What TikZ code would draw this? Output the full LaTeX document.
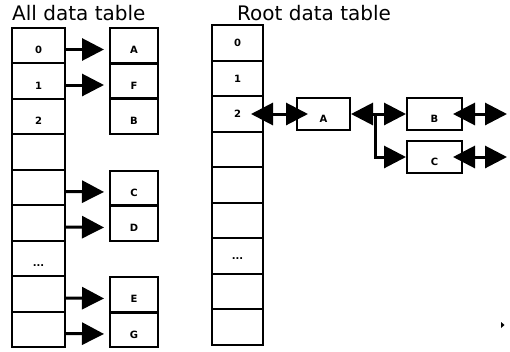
\documentclass[tikz,border=0pt]{standalone}
\usepackage{fontspec}
\setmainfont{DejaVu Sans}
\usetikzlibrary{positioning, arrows.meta, calc}

\tikzset{
    cell/.style={draw, line width=2pt, minimum width=53pt, minimum height=35.5pt,
        inner sep=0pt, font=\fontsize{10}{10}\selectfont\bfseries,
        text height=16pt, text depth=0pt},
    rootcell/.style={cell, minimum width=51pt, text height=7pt},
    box/.style={cell, minimum width=48pt, minimum height=34.5pt},
    listbox/.style={cell, minimum height=32pt},
    title/.style={inner sep=0pt, font=\fontsize{20}{20}\selectfont},
    arr/.style={line width=3pt, -{Triangle[length=22pt, width=22pt]}},
    dbl/.style={line width=3pt, {Triangle[length=22pt, width=22pt]}-{Triangle[length=22pt, width=22pt]}}
}

\begin{document}
\begin{tikzpicture}[x=1pt, y=-1pt, node distance=35.5pt]
    \useasboundingbox (0,0) rectangle (510,351);

    % titles
    \node[title, anchor=base west] (alltitle) at (12,20.5) {All data table};
    \node[title, anchor=base west] (roottitle) at (237,20.5) {Root data table};

    % all data table
    \node[cell] (l0) at (38.5,45.5) {0};
    \node[cell, below of=l0] (l1) {1};
    \node[cell, below of=l1] (l2) {2};
    \node[cell, below of=l2] (l3) {};
    \node[cell, below of=l3] (l4) {};
    \node[cell, below of=l4] (l5) {};
    \node[cell, below of=l5] (l6) {...};
    \node[cell, below of=l6] (l7) {};
    \node[cell, below of=l7] (l8) {};

    \node[box] (bA) at (134,45.5) {A};
    \node[box, below of=bA] (bF) {F};
    \node[box, below of=bF] (bB) {B};
    \node[box] (bC) at (134,188) {C};
    \node[box, below of=bC] (bD) {D};
    \node[box] (bE) at (134,294.5) {E};
    \node[box, below of=bE] (bG) {G};

    \path
        ([yshift=-4pt]l0.east) edge[arr, shorten >=5pt] ([yshift=-4pt]bA.west)
        ([yshift=-4pt]l1.east) edge[arr, shorten >=5pt] ([yshift=-4pt]bF.west)
        ([yshift=-4pt]l4.east) edge[arr, shorten >=5pt] ([yshift=-4pt]bC.west)
        ([yshift=-4pt]l5.east) edge[arr, shorten >=5pt] ([yshift=-4pt]bD.west)
        ([yshift=-4pt]l7.east) edge[arr, shorten >=5pt] ([yshift=-4pt]bE.west)
        ([yshift=-4pt]l8.east) edge[arr, shorten >=5pt] ([yshift=-4pt]bG.west)
        ;

    % root data table
    \node[rootcell] (r0) at (237.5,43) {0};
    \node[rootcell, below of=r0] (r1) {1};
    \node[rootcell, below of=r1] (r2) {2};
    \node[rootcell, below of=r2] (r3) {};
    \node[rootcell, below of=r3] (r4) {};
    \node[rootcell, below of=r4] (r5) {};
    \node[rootcell, below of=r5] (r6) {...};
    \node[rootcell, below of=r6] (r7) {};
    \node[rootcell, below of=r7] (r8) {};

    \node[listbox, right=32pt of r2] (nA) {A};
    \node[listbox, minimum width=55pt, right=55pt of nA] (nB) {B};
    \node[listbox, minimum width=55pt, below=9pt of nB] (nC) {C};

    \coordinate (split) at ([xshift=24pt]nA.east);
    \coordinate (bEnd) at ([xshift=44pt]nB.east);
    \coordinate (cEnd) at ([xshift=44pt]nC.east);

    \draw[dbl, shorten <=-13pt, shorten >=-12pt] (r2.east) -- (nA.west);
    \draw[dbl] (nA.east) -- (nB.west);
    \draw[arr] (split) |- (nC.west);
    \draw[dbl, shorten <=-10pt] (nB.east) -- (bEnd);
    \draw[dbl, shorten <=-10pt] (nC.east) -- (cEnd);

    \fill (501,322) -- (504.5,325) -- (501,328) -- cycle;
\end{tikzpicture}
\end{document}
